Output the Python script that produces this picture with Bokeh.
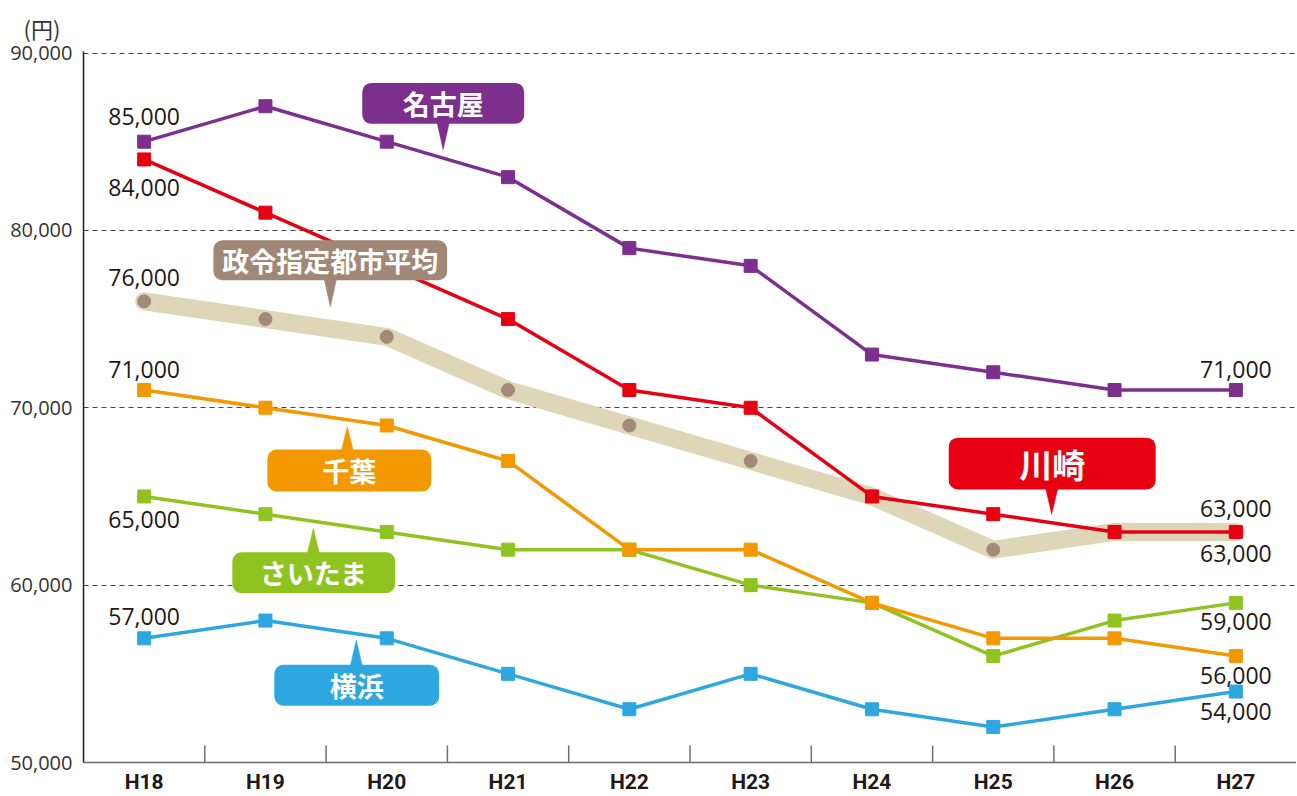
from bokeh.plotting import figure
from bokeh.models import FactorRange, Range1d, BoxAnnotation, Label, FixedTicker, NumeralTickFormatter, Title
from bokeh.core.properties import value
from bokeh.embed import file_html
from bokeh.resources import INLINE

# ---------------- data ----------------
years = ["H18", "H19", "H20", "H21", "H22", "H23", "H24", "H25", "H26", "H27"]
nagoya = [85000, 87000, 85000, 83000, 79000, 78000, 73000, 72000, 71000, 71000]
kawasaki = [84000, 81000, 78000, 75000, 71000, 70000, 65000, 64000, 63000, 63000]
average = [76000, 75000, 74000, 71000, 69000, 67000, 65000, 62000, 63000, 63000]
chiba = [71000, 70000, 69000, 67000, 62000, 62000, 59000, 57000, 57000, 56000]
saitama = [65000, 64000, 63000, 62000, 62000, 60000, 59000, 56000, 58000, 59000]
yokohama = [57000, 58000, 57000, 55000, 53000, 55000, 53000, 52000, 53000, 54000]
y_ticks = [50000, 60000, 70000, 80000, 90000]
grid_values = [60000, 70000, 80000, 90000]

series = {
    "nagoya": nagoya, "kawasaki": kawasaki, "average": average,
    "chiba": chiba, "saitama": saitama, "yokohama": yokohama,
}

# value labels: (series, index, offset px; negative = above the point)
value_labels = [
    ("nagoya", 0, -25), ("kawasaki", 0, 28), ("average", 0, -24),
    ("chiba", 0, -21), ("saitama", 0, 23), ("yokohama", 0, -22),
    ("nagoya", 9, -21), ("kawasaki", 9, -23), ("average", 9, 22),
    ("saitama", 9, 19), ("chiba", 9, 19), ("yokohama", 9, 20),
]

# ---------------- styles ----------------
C_NAGOYA = "#7d2f8e"
C_KAWASAKI = "#e60012"
C_CHIBA = "#f39800"
C_SAITAMA = "#8fc31f"
C_YOKOHAMA = "#2ea7e0"
C_BAND = "#dfd6b8"
C_DOT = "#a38a78"
C_LABEL_AVG = "#a08776"
TXT = "#231815"
JP = "Noto Sans CJK JP"
NUM = "Open Sans"

# callouts: text, colour, box (left, right, bottom, top), pointer tip (x, y), font size
callouts = [
    ("名古屋", C_NAGOYA, (2.298, 3.633, 86011, 88315), (2.965, 84551), "27px"),
    ("政令指定都市平均", C_LABEL_AVG, (1.071, 2.998, 77191, 79438), (2.035, 75674), "27px"),
    ("千葉", C_CHIBA, (1.516, 2.867, 65281, 67640), (2.175, 68933), "27px"),
    ("さいたま", C_SAITAMA, (1.227, 2.570, 59551, 61854), (1.895, 63202), "27px"),
    ("横浜", C_YOKOHAMA, (1.573, 2.932, 53202, 55506), (2.249, 56910), "27px"),
    ("川崎", C_KAWASAKI, (7.133, 8.839, 65393, 68315), (7.982, 63989), "33px"),
]

W, H = 1296, 796
p = figure(
    width=W, height=H, output_backend="svg", toolbar_location=None,
    x_range=FactorRange(*years, range_padding=0),
    y_range=Range1d(50000, 90085),
    min_border_left=83, min_border_right=0, min_border_top=51, min_border_bottom=33,
)
p.title = Title(text="(円)", align="left", offset=-60, text_font=JP, text_font_size="22px",
                text_font_style="normal", text_color="#333333", standoff=16)
p.outline_line_color = None
p.background_fill_color = "white"
p.border_fill_color = "white"

# grid
p.xgrid.grid_line_color = None
p.ygrid.ticker = FixedTicker(ticks=grid_values)
p.ygrid.grid_line_color = "#444444"
p.ygrid.grid_line_dash = "5 4"
p.ygrid.grid_line_width = 1

# y axis
p.yaxis.ticker = FixedTicker(ticks=y_ticks)
p.yaxis.formatter = NumeralTickFormatter(format="0,0")
p.yaxis.major_tick_line_color = None
p.yaxis.major_tick_out = 0
p.yaxis.major_tick_in = 0
p.yaxis.minor_tick_line_color = None
p.yaxis.minor_tick_out = 0
p.yaxis.axis_line_color = TXT
p.yaxis.axis_line_width = 1.5
p.yaxis.major_label_text_font = NUM
p.yaxis.major_label_text_font_size = "20px"
p.yaxis.major_label_text_color = "#333333"
p.yaxis.major_label_standoff = 11

# x axis
p.xaxis.major_tick_line_color = None
p.xaxis.major_tick_out = 0
p.xaxis.major_tick_in = 0
p.xaxis.minor_tick_line_color = None
p.xaxis.axis_line_color = "#6e6e6e"
p.xaxis.axis_line_width = 1.5
p.xaxis.major_label_text_font = "Roboto"
p.xaxis.major_label_text_font_size = "21px"
p.xaxis.major_label_text_font_style = "bold"
p.xaxis.major_label_text_color = TXT
p.xaxis.major_label_standoff = 7

# category separators (ticks between categories)
tick_len = 17 / 178 * 10000
sep_x = list(range(1, len(years)))
p.segment(x0=sep_x, y0=[50000] * len(sep_x), x1=sep_x, y1=[50000 + tick_len] * len(sep_x),
          line_color="#6e6e6e", line_width=1.5)

# average band
p.line(years, average, line_width=18, line_color=C_BAND, line_join="round", line_cap="round")
p.scatter(years, average, size=13, color=C_DOT)

for vals, col in [(yokohama, C_YOKOHAMA), (saitama, C_SAITAMA), (chiba, C_CHIBA),
                  (kawasaki, C_KAWASAKI), (nagoya, C_NAGOYA)]:
    p.line(years, vals, line_width=3.5, line_color=col)
    p.scatter(years, vals, marker="square", size=13, color=col)

# value labels
lx = [years[i] for _, i, _ in value_labels]
ly = [series[s][i] for s, i, _ in value_labels]
lt = [f"{series[s][i]:,}" for s, i, _ in value_labels]
lo = [o for _, _, o in value_labels]
p.text(x=lx, y=ly, text=lt, y_offset=lo, text_align="center", text_baseline="middle",
       text_font=value(NUM), text_font_size="23px", text_color=TXT)

# callouts
hw = 0.058
for txt, col, (l, r, b, t), (tx, ty), fs in callouts:
    p.add_layout(BoxAnnotation(left=l, right=r, bottom=b, top=t, fill_color=col, fill_alpha=1,
                               line_color=None, border_radius=9, level="overlay"))
    base = b + 300 if ty < b else t - 300
    p.patch([tx - hw, tx + hw, tx], [base, base, ty], fill_color=col, line_color=col,
            line_width=0.5, level="overlay")
    p.add_layout(Label(x=(l + r) / 2, y=(b + t) / 2, text=txt, text_align="center",
                       text_baseline="middle", text_color="white", text_font=JP,
                       text_font_size=fs, text_font_style="bold", level="overlay"))

open("out.html", "w").write(file_html(p, INLINE))
